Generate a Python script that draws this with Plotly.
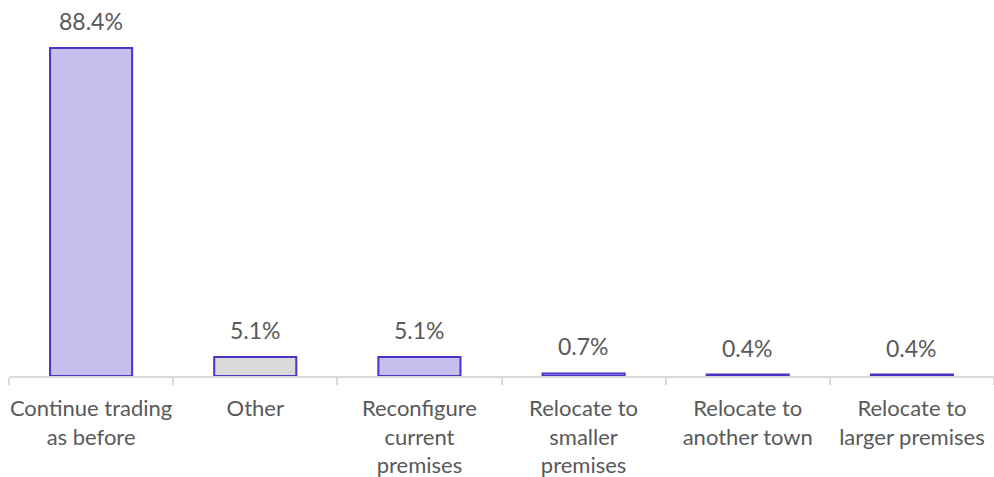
import plotly.graph_objects as go

categories = [
    "Continue trading<br>as before",
    "Other",
    "Reconfigure<br>current<br>premises",
    "Relocate to<br>smaller<br>premises",
    "Relocate to<br>another town",
    "Relocate to<br>larger premises",
]
values = [88.4, 5.1, 5.1, 0.7, 0.4, 0.4]
value_labels = ["88.4%", "5.1%", "5.1%", "0.7%", "0.4%", "0.4%"]

purple_fill = "#c8bfee"
grey_fill = "#d9d9d9"
outline = "#4b32c8"
fills = [purple_fill, grey_fill, purple_fill, purple_fill, purple_fill, purple_fill]

text_color = "#595959"
font_family = "Lato, 'Open Sans', sans-serif"

fig = go.Figure(
    go.Bar(
        x=categories,
        y=values,
        cliponaxis=False,
        marker=dict(color=fills, line=dict(color=outline, width=2)),
        hoverinfo="skip",
    )
)

# value labels sit a little above each bar
for cat, val, lab in zip(categories, values, value_labels):
    fig.add_annotation(
        x=cat,
        y=val,
        text=lab,
        showarrow=False,
        yanchor="middle",
        yshift=27,
        font=dict(size=23, color=text_color, family=font_family),
    )

fig.update_layout(
    width=994,
    height=477,
    margin=dict(l=9, r=0, t=5, b=101),
    paper_bgcolor="white",
    plot_bgcolor="white",
    bargap=0.5,
    showlegend=False,
    font=dict(family=font_family, color=text_color, size=22),
)

fig.update_xaxes(
    type="category",
    automargin=False,
    tickangle=0,
    showline=True,
    linecolor="#d9d9d9",
    linewidth=1.5,
    ticks="outside",
    tickson="boundaries",
    ticklen=7,
    tickcolor="#d9d9d9",
    tickwidth=1.5,
    ticklabelstandoff=12,
    tickfont=dict(size=22, color=text_color, family=font_family),
    showgrid=False,
)

fig.update_yaxes(
    range=[0, 100],
    visible=False,
    showgrid=False,
    zeroline=False,
)

fig.write_html("out.html")
